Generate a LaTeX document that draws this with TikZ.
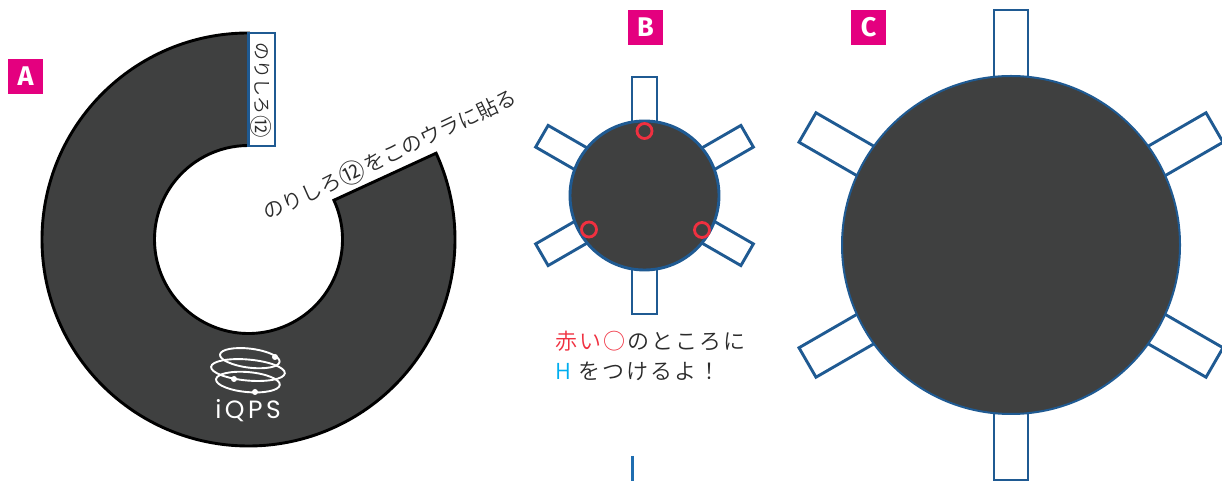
\documentclass[tikz,border=0pt]{standalone}
\usepackage{fontspec}
\newfontfamily\cjk{Noto Sans CJK JP DemiLight}
\newfontfamily\badgefont{Fira Sans}[BoldFont={Fira Sans Bold}]
\newfontfamily\logofont{Poppins}[LetterSpace=14]
\definecolor{dark}{HTML}{3F4040}
\definecolor{tabblue}{HTML}{1F5A92}
\definecolor{pinkbadge}{HTML}{E4007F}
\definecolor{ringred}{HTML}{F03040}
\definecolor{hcyan}{HTML}{00AEEF}
\definecolor{txt}{HTML}{2B2B2B}
\definecolor{tick}{HTML}{1F6DB0}
\newcommand{\bigtwelve}{\raisebox{-0.12em}{\scalebox{1.25}{⑫}}}
\tikzset{
  tabbox/.style={draw=tabblue,line width=2.9pt,fill=white,line join=miter},
  badge/.style={fill=pinkbadge,text=white,minimum size=35pt,inner sep=0pt,font=\badgefont\bfseries\fontsize{27}{27}\selectfont},
  ring/.style={draw=ringred,line width=2.8pt},
  orbit/.style={draw=white,line width=1.9pt},
  jtext/.style={inner sep=0pt,text=txt},
}
\begin{document}
\begin{tikzpicture}[x=1pt,y=1pt]
\useasboundingbox (0,0) rectangle (1222,481);
\fill[white] (0,0) rectangle (1222,481);
\coordinate (A) at (248.5,241.5);
\coordinate (B) at (644.5,285.5);
\coordinate (C) at (1011,236);
% A: ring
\fill[dark,draw=black,line width=2.9pt,line join=miter]
  ([shift={(90:206.5pt)}]A) arc[start angle=90,end angle=384.7,radius=206.5pt]
  -- ([shift={(24.7:94pt)}]A) arc[start angle=24.7,end angle=-270,radius=94pt] -- cycle;
\draw[tabbox] (248.5,335) rectangle (275,448);
\node[jtext,rotate=-90,font=\cjk\fontsize{18}{18}\selectfont] (tablabel) at (261.5,391) {のりしろ\kern1pt\bigtwelve};
\node[jtext,rotate=25.3,font=\cjk\fontsize{20.8}{20.8}\selectfont] (note) at (390,326) {のりしろ\kern1pt\bigtwelve\kern1ptをこのウラに貼る};
% logo
\begin{scope}[shift={(247,100)}]
  \draw[orbit,rotate=-7] (0,23) ellipse[x radius=30pt,y radius=9.5pt];
  \draw[orbit,rotate=-5] (0,11) ellipse[x radius=37pt,y radius=10.5pt];
  \draw[orbit,rotate=-5] (1,-1) ellipse[x radius=32pt,y radius=10pt];
  \fill[white] (28,24) circle[radius=3pt] (-13,2) circle[radius=3pt] (8,-11) circle[radius=3pt];
\end{scope}
\node[inner sep=0pt,text=white,font=\logofont\fontsize{25}{25}\selectfont] (logo) at (248,70) {iQPS};
% badges
\node[badge] (la) at (25.5,404.5) {A};
\node[badge] (lb) at (645.5,453.5) {B};
\node[badge] (lc) at (868.5,453.5) {C};
% B
\foreach \a in {0,60,...,300}{
  \begin{scope}[shift={(B)},rotate=\a]
    \draw[tabbox] (-12.5,60) rectangle (12.5,118.5);
  \end{scope}
}
\fill[dark,draw=tabblue,line width=2.9pt] (B) circle[radius=74.5pt];
\draw[ring] (644.5,350) circle[radius=7.5pt];
\draw[ring] (589,251.5) circle[radius=7.5pt];
\draw[ring] (702,251) circle[radius=7.5pt];
\node[jtext,anchor=west,font=\cjk\fontsize{22}{22}\selectfont] (l1) at (555,140) {\textcolor{ringred}{赤\kern2ptい\kern2pt○}\kern2ptの\kern2ptと\kern2ptこ\kern2ptろ\kern2ptに};
\node[jtext,anchor=west,font=\cjk\fontsize{22}{22}\selectfont] (l2) at (555,110) {\textcolor{hcyan}{H}\kern7ptを\kern2ptつ\kern2ptけ\kern2ptる\kern2ptよ\kern2pt！};
\coordinate (t1) at (632,25);
\coordinate (t2) at (632,0);
\draw[tick,line width=3pt] (t1) -- (t2);
% C
\foreach \a in {0,60,...,300}{
  \begin{scope}[shift={(C)},rotate=\a]
    \draw[tabbox] (-17,120) rectangle (17,235);
  \end{scope}
}
\fill[dark,draw=tabblue,line width=2pt] (C) circle[radius=169pt];
\end{tikzpicture}
\end{document}
